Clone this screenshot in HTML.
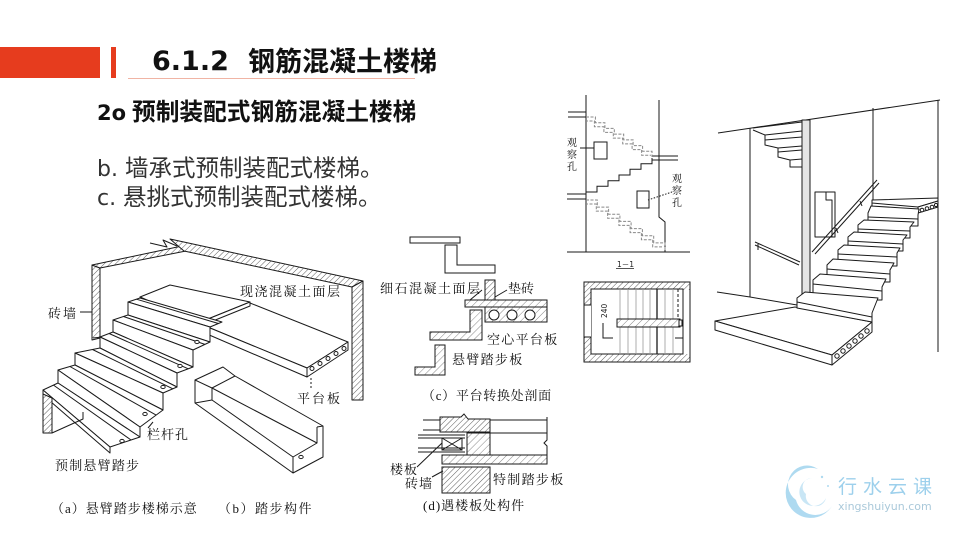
<!DOCTYPE html>
<html><head><meta charset="utf-8">
<style>
html,body{margin:0;padding:0;background:#fff;}
svg{display:block;}
.cn{font-family:"Liberation Serif","Noto Serif CJK SC","Noto Sans CJK SC",serif;font-size:13px;fill:#111;}
</style></head>
<body>
<svg width="960" height="540" viewBox="0 0 960 540" xmlns="http://www.w3.org/2000/svg">
<defs>
<pattern id="h" patternUnits="userSpaceOnUse" width="4" height="4" patternTransform="rotate(45)">
<rect width="4" height="4" fill="#fff"/>
<line x1="0" y1="0" x2="0" y2="4" stroke="#333" stroke-width="0.8"/>
</pattern>
<pattern id="hg" patternUnits="userSpaceOnUse" width="5" height="5" patternTransform="rotate(45)">
<rect width="5" height="5" fill="#fff"/>
<line x1="0" y1="0" x2="0" y2="5" stroke="#555" stroke-width="0.7"/>
</pattern>
</defs>
<rect width="960" height="540" fill="#fff"/>

<!-- Header -->
<rect x="0" y="47" width="100" height="31" fill="#e63c1e"/>
<rect x="111" y="47" width="5" height="31" fill="#e63c1e"/>
<line x1="128" y1="78.5" x2="415" y2="78.5" stroke="#f0b4a4" stroke-width="1"/>
<text x="152" y="70" font-family="DejaVu Sans, sans-serif" font-weight="bold" font-size="27" fill="#111">6.1.2</text>
<text x="248" y="71" font-family="'Liberation Sans','Noto Sans CJK SC',sans-serif" font-weight="bold" font-size="27" fill="#111">钢筋混凝土楼梯</text>

<text x="97" y="120" font-family="DejaVu Sans, sans-serif" font-weight="bold" font-size="21" fill="#111">2o</text>
<text x="132" y="120" font-family="'Liberation Sans','Noto Sans CJK SC',sans-serif" font-weight="bold" font-size="23.7" fill="#111">预制装配式钢筋混凝土楼梯</text>

<text x="97" y="176" font-family="DejaVu Sans, sans-serif" font-size="22" fill="#333">b.</text>
<text x="125" y="176" font-family="'Liberation Sans','Noto Sans CJK SC',sans-serif" font-size="23.5" fill="#333">墙承式预制装配式楼梯。</text>
<text x="97" y="205" font-family="DejaVu Sans, sans-serif" font-size="22" fill="#333">c.</text>
<text x="123" y="205" font-family="'Liberation Sans','Noto Sans CJK SC',sans-serif" font-size="23.5" fill="#333">悬挑式预制装配式楼梯。</text>

<!-- ============ Drawing (a)(b) ============ -->
<g stroke="#1a1a1a" stroke-width="1" fill="#fff" stroke-linejoin="round">
  <!-- walls -->
  <polygon points="92,265 100,268 100,338 92,340" fill="url(#h)"/>
  <polygon points="92,265 182,246 186,251 100,268" fill="url(#h)"/>
  <polygon points="170,239 363,281 352,287 184,251" fill="url(#h)"/>
  <polyline points="150,243 167,247 163,240 177,246" fill="none"/>
  <polygon points="352,287 363,281 363,400 352,400" fill="url(#h)"/>
  <line x1="93" y1="338" x2="112" y2="336"/>

  <!-- platform slab -->
  <polygon points="198,323 250,303 348,342 307,368"/>
  <polygon points="307,368 348,342 348,350 307,377"/>
  <polygon points="198,323 307,368 307,377 200,331"/>
  <g fill="#fff">
    <circle cx="312" cy="368.5" r="2"/><circle cx="320" cy="363.5" r="2"/>
    <circle cx="328" cy="358.5" r="2"/><circle cx="336" cy="353.5" r="2"/>
    <circle cx="344" cy="348.5" r="2"/>
  </g>
  <line x1="311" y1="378" x2="311" y2="388" stroke-dasharray="2,2"/>

  <!-- surface layer -->
  <polygon points="140,297 170,285 250,302 198,323"/>
  <polygon points="140,297 198,323 198,327 140,301"/>
  <polygon points="198,323 250,302 250,306 198,327"/>

  <!-- steps -->
  <polygon points="140,298 222,322 210,327 128,302"/>
  <line x1="136.4" y1="299.2" x2="218.4" y2="323.5"/>
  <polygon points="128,302 210,327 210,342 128,315"/>
  <polygon points="128,315 210,342 193,350 113,320"/>
  <line x1="123.5" y1="316.5" x2="204.9" y2="344.4"/>
  <polygon points="113,320 193,350 193,367 113,332"/>
  <polygon points="113,332 193,367 177,373 100,337"/>
  <line x1="109.1" y1="333.5" x2="188.2" y2="368.8"/>
  <polygon points="100,337 177,373 177,387 100,348"/>
  <polygon points="100,348 177,387 163,393 75,353"/>
  <line x1="92.5" y1="349.5" x2="172.8" y2="388.8"/>
  <polygon points="75,353 163,393 163,410 75,365"/>
  <polygon points="75,365 163,410 140,427 58,370"/>
  <line x1="69.9" y1="366.5" x2="156.1" y2="415.1"/>
  <polygon points="58,370 140,427 140,437 58,383"/>
  <polygon points="58,383 140,437 110,447 43,390"/>
  <line x1="53.5" y1="385.1" x2="131" y2="440"/>
  <polygon points="43,390 110,447 110,453 43,395"/>
  <!-- stub block -->
  <polygon points="43,394 52,398 52,433 43,433" fill="url(#h)"/>
  <polyline points="52,433 83,419 83,412" fill="none"/>
  <!-- holes -->
  <g fill="#fff">
    <ellipse cx="197" cy="342" rx="2.2" ry="1.6"/>
    <ellipse cx="180" cy="366" rx="2.2" ry="1.6"/>
    <ellipse cx="163" cy="387" rx="2.2" ry="1.6"/>
    <ellipse cx="145" cy="414" rx="2.2" ry="1.6"/>
    <ellipse cx="122" cy="441" rx="2.2" ry="1.6"/>
  </g>
  <line x1="148" y1="428" x2="153" y2="422"/>
  <line x1="80" y1="312" x2="92" y2="312"/>

  <!-- (b) tread component -->
  <polygon points="195,380 223,367 235,376 323,426 323,457 293,473 195,403"/>
  <polyline points="195,380 212,388 235,376" fill="none"/>
  <line x1="212" y1="388" x2="212" y2="400"/>
  <line x1="212" y1="388" x2="317" y2="443"/>
  <line x1="212" y1="400" x2="293" y2="457"/>
  <line x1="195" y1="403" x2="212" y2="400"/>
  <polyline points="317,427 317,443 293,457 293,473" fill="none"/>
  <line x1="317" y1="427" x2="323" y2="426"/>
  <ellipse cx="301" cy="457" rx="2.2" ry="1.6"/>
</g>
<g class="cn">
  <text x="240" y="296" letter-spacing="1.5">现浇混凝土面层</text>
  <text x="48" y="318" letter-spacing="2">砖墙</text>
  <text x="147" y="439" letter-spacing="1">栏杆孔</text>
  <text x="297" y="403" letter-spacing="2">平台板</text>
  <text x="55" y="470" letter-spacing="1.2">预制悬臂踏步</text>
  <text x="51" y="513" letter-spacing="1">（a）悬臂踏步楼梯示意</text>
  <text x="218" y="513" letter-spacing="1.5">（b）踏步构件</text>
</g>

<!-- ============ Drawing (c) ============ -->
<g stroke="#1a1a1a" stroke-width="1" fill="#fff">
  <rect x="410" y="237" width="50" height="6"/>
  <polygon points="445,245 457,245 457,265 495,265 495,273 445,273"/>
  <rect x="485" y="280" width="10" height="20" fill="url(#h)"/>
  <rect x="465" y="300" width="82" height="7" fill="url(#hg)"/>
  <rect x="485" y="307" width="62" height="15" fill="url(#hg)"/>
  <circle cx="494" cy="315" r="5"/><circle cx="512" cy="315" r="5"/><circle cx="530" cy="315" r="5"/>
  <polygon points="470,310 482,310 482,340 430,340 430,332 470,332" fill="url(#hg)"/>
  <polygon points="435,345 445,345 445,375 415,375 415,367 435,367" fill="url(#hg)"/>
  <line x1="482" y1="290" x2="470" y2="300"/>
  <line x1="507" y1="290" x2="495" y2="297"/>
</g>
<g class="cn">
  <text x="380" y="293" letter-spacing="1.5">细石混凝土面层</text>
  <text x="508" y="293" letter-spacing="0">垫砖</text>
  <text x="487" y="344" letter-spacing="1.3">空心平台板</text>
  <text x="452" y="364" letter-spacing="1.3">悬臂踏步板</text>
  <text x="422" y="400" letter-spacing="0.7">（c）平台转换处剖面</text>
</g>

<!-- ============ Drawing (d) ============ -->
<g stroke="#1a1a1a" stroke-width="1" fill="#fff">
  <polygon points="440,417 461,417 464,414 468,419 490,419 490,432 440,432" fill="url(#h)"/>
  <line x1="423" y1="420" x2="440" y2="420"/>
  <line x1="423" y1="430" x2="440" y2="430"/>
  <line x1="490" y1="420" x2="547" y2="420"/>
  <polyline points="547,417 547,440 544,443 547,446 547,455" fill="none"/>
  <line x1="490" y1="433" x2="547" y2="433"/>
  <line x1="418" y1="435" x2="465" y2="435"/>
  <line x1="418" y1="438" x2="465" y2="438"/>
  <line x1="418" y1="448" x2="465" y2="448"/>
  <line x1="418" y1="452" x2="465" y2="452"/>
  <rect x="442" y="438" width="20" height="12" fill="none"/>
  <line x1="442" y1="438" x2="462" y2="450"/><line x1="462" y1="438" x2="442" y2="450"/>
  <rect x="467" y="433" width="23" height="22" fill="url(#hg)"/>
  <rect x="442" y="455" width="105" height="9" fill="url(#hg)"/>
  <rect x="442" y="467" width="48" height="26" fill="url(#h)"/>
  <line x1="417" y1="467" x2="442" y2="443"/>
  <line x1="432" y1="477" x2="443" y2="471"/>
</g>
<g class="cn">
  <text x="390" y="474" letter-spacing="1">楼板</text>
  <text x="405" y="488" letter-spacing="1">砖墙</text>
  <text x="493" y="484" letter-spacing="1.3">特制踏步板</text>
  <text x="423" y="510" letter-spacing="1">(d)遇楼板处构件</text>
</g>

<!-- ============ Section 1-1 ============ -->
<g stroke="#1a1a1a" stroke-width="1" fill="none">
  <line x1="586" y1="95" x2="586" y2="252"/>
  <polyline points="659,100 659,217 665,222 665,252"/>
  <line x1="567" y1="252" x2="690" y2="252"/>
  <line x1="568" y1="112" x2="586" y2="112"/><line x1="568" y1="117" x2="586" y2="117"/>
  <line x1="567" y1="194" x2="586" y2="194"/><line x1="567" y1="199" x2="586" y2="199"/>
  <line x1="652" y1="156" x2="678" y2="156"/><line x1="652" y1="160" x2="678" y2="160"/>
  <g stroke="#888" stroke-dasharray="3,1.5">
    <polyline points="586,117 595.4,117 595.4,122.7 604.9,122.7 604.9,128.4 614.3,128.4 614.3,134.1 623.7,134.1 623.7,139.9 633.1,139.9 633.1,145.6 642.6,145.6 642.6,151.3 652,151.3 652,157"/>
    <polyline transform="translate(-1,4)" points="586,117 595.4,117 595.4,122.7 604.9,122.7 604.9,128.4 614.3,128.4 614.3,134.1 623.7,134.1 623.7,139.9 633.1,139.9 633.1,145.6 642.6,145.6 642.6,151.3 652,151.3"/>
    <polyline points="586,200 597.3,200 597.3,207.1 608.6,207.1 608.6,214.3 619.9,214.3 619.9,221.4 631.1,221.4 631.1,228.6 642.4,228.6 642.4,235.7 653.7,235.7 653.7,242.9 665,242.9 665,250"/>
    <polyline transform="translate(-1,4)" points="586,200 597.3,200 597.3,207.1 608.6,207.1 608.6,214.3 619.9,214.3 619.9,221.4 631.1,221.4 631.1,228.6 642.4,228.6 642.4,235.7 653.7,235.7 653.7,242.9 663,242.9"/>
  </g>
  <polyline points="586,192 597,192 597,186.3 608,186.3 608,180.7 619,180.7 619,175 630,175 630,169.3 641,169.3 641,163.7 652,163.7 652,158"/>
  <rect x="594" y="142" width="13" height="17"/>
  <rect x="637" y="191" width="12" height="17"/>
  <line x1="580" y1="148" x2="594" y2="148"/>
  <line x1="648" y1="200" x2="672" y2="192" stroke-dasharray="1.5,1.5"/>
  <line x1="616" y1="268.5" x2="634" y2="268.5" stroke-width="0.8"/>
</g>
<g class="cn" style="font-size:10px">
  <text x="567" y="146">观</text><text x="567" y="158">察</text><text x="567" y="170">孔</text>
  <text x="672" y="182">观</text><text x="672" y="194">察</text><text x="672" y="206">孔</text>
</g>
<text x="617" y="267" font-family="DejaVu Sans, sans-serif" font-size="7.5" fill="#222">1－1</text>

<!-- ============ Plan ============ -->
<g stroke="#1a1a1a" stroke-width="1">
  <rect x="584" y="282" width="106" height="80" fill="url(#h)"/>
  <rect x="591" y="289" width="92" height="65" fill="#fff"/>
  <rect x="584.5" y="305" width="6.5" height="32" fill="#fff" stroke="none"/>
  <rect x="683" y="290" width="7" height="64" fill="#fff" stroke="none"/>
  <line x1="690" y1="289" x2="690" y2="354"/>
  <line x1="683" y1="289" x2="683" y2="354"/>
  <line x1="584" y1="305" x2="591" y2="305"/><line x1="584" y1="337" x2="591" y2="337"/>
  <g stroke="#999" stroke-width="0.8">
    <line x1="620" y1="289" x2="620" y2="354"/><line x1="628" y1="289" x2="628" y2="354"/>
    <line x1="636" y1="289" x2="636" y2="354"/><line x1="643" y1="289" x2="643" y2="354"/>
    <line x1="650" y1="289" x2="650" y2="354"/><line x1="665" y1="289" x2="665" y2="354"/>
    <line x1="673" y1="289" x2="673" y2="354"/>
  </g>
  <line x1="657" y1="289" x2="657" y2="354" stroke-width="1.3"/>
  <line x1="678" y1="289" x2="678" y2="321" stroke-dasharray="3,2"/>
  <rect x="617" y="319" width="63" height="8" fill="url(#hg)"/>
  <rect x="679" y="320" width="3" height="6" fill="#fff"/>
  <polyline points="603,323 603,338 613,338" fill="none"/>
  <polyline points="675,338 683,338 683,325" fill="none"/>
</g>
<text transform="translate(607,318) rotate(-90)" font-family="DejaVu Sans, sans-serif" font-size="7.5" fill="#222">240</text>

<!-- ============ Perspective ============ -->
<g stroke="#1a1a1a" stroke-width="1" fill="#fff" stroke-linejoin="round">
  <line x1="718" y1="133" x2="940" y2="100"/>
  <line x1="938" y1="100" x2="938" y2="352"/>
  <line x1="750" y1="128" x2="750" y2="297"/>
  <line x1="873" y1="108" x2="873" y2="202"/>
  <!-- upper flight -->
  <polyline fill="none" points="753,130 765,135 765,145 778,148 778,157 790,160 790,167 802,167"/>
  <line x1="753" y1="128" x2="802" y2="122"/>
  <line x1="765" y1="135" x2="802" y2="131"/>
  <line x1="765" y1="140" x2="802" y2="137"/>
  <line x1="778" y1="148" x2="802" y2="146"/>
  <line x1="778" y1="152" x2="802" y2="150"/>
  <line x1="790" y1="160" x2="802" y2="159"/>
  <!-- column -->
  <rect x="802" y="120" width="8" height="177" fill="#e4e4e4"/>
  <!-- window -->
  <rect x="815" y="192" width="20" height="45"/>
  <polyline fill="none" points="826,192 826,200 832,200 832,237"/>
  <!-- handrails -->
  <line x1="812" y1="252" x2="877" y2="180"/>
  <line x1="815" y1="254" x2="879" y2="183"/>
  <line x1="836" y1="228" x2="838" y2="233"/>
  <line x1="860" y1="201" x2="862" y2="206"/>
  <line x1="755" y1="242" x2="800" y2="262"/>
  <line x1="755" y1="245" x2="799" y2="265"/>
  <line x1="758" y1="244" x2="758" y2="250"/>
  <!-- floor -->
  <line x1="717" y1="292" x2="750" y2="297"/>
  <line x1="750" y1="297" x2="797" y2="305"/>
  <!-- upper landing -->
  <polygon points="872,200 938,198 938,201 918,207 872,203"/>
  <polygon points="918,207 938,201 938,207 918,213"/>
  <line x1="872" y1="203" x2="872" y2="207"/>
  <g fill="#fff"><circle cx="922" cy="210" r="1.8"/><circle cx="927" cy="208.5" r="1.8"/><circle cx="932" cy="207" r="1.8"/><circle cx="936" cy="205" r="1.6"/></g>
  <!-- lower landing -->
  <polygon points="715,321 795,307 872,322 832,355"/>
  <polygon points="715,321 832,355 832,365 715,330"/>
  <polygon points="832,355 872,322 872,332 832,365"/>
  <g fill="#fff"><circle cx="837" cy="356" r="2.2"/><circle cx="843" cy="351" r="2.2"/><circle cx="849" cy="346" r="2.2"/><circle cx="855" cy="341" r="2.2"/><circle cx="861" cy="336" r="2.2"/><circle cx="867" cy="331" r="2.2"/></g>
  <!-- main flight steps (top to bottom) -->
  <polygon points="871,206 919,209 918,215 918,226 868,226 868,213"/>
  <line x1="868" y1="217" x2="918" y2="219"/>
  <polygon points="864,220 914,222 910,227 910,238 858,238 858,225"/>
  <line x1="858" y1="229" x2="910" y2="231"/>
  <polygon points="854,232 907,235 903,240 903,251 848,251 848,237"/>
  <line x1="848" y1="241" x2="903" y2="244"/>
  <polygon points="844,245 900,248 897,253 897,266 838,266 838,250"/>
  <line x1="838" y1="254" x2="897" y2="257"/>
  <polygon points="833,259 894,263 890,270 890,282 827,282 827,265"/>
  <line x1="827" y1="269" x2="890" y2="274"/>
  <polygon points="820,274 886,279 882,287 882,300 813,300 813,280"/>
  <line x1="813" y1="284" x2="882" y2="291"/>
  <polygon points="805,292 878,298 872,313 872,322 797,308 797,298"/>
  <line x1="797" y1="302" x2="872" y2="317"/>
</g>

<!-- ============ Logo watermark ============ -->
<g opacity="0.9">
  <path d="M818,469 A25,25 0 1 0 832,506 A20,20 0 0 1 796,500 A17,17 0 0 1 818,469 Z" fill="#a6d6ef"/>
  <path d="M812,478 A14,14 0 1 0 826,498 A10,10 0 0 1 806,494 A9,9 0 0 1 812,478 Z" fill="#c4e4f5"/>
  <circle cx="822" cy="477" r="1.2" fill="#a6d6ef"/>
  <circle cx="828" cy="486" r="1" fill="#a6d6ef"/>
</g>
<text x="838" y="493" font-family="'Liberation Sans','Noto Sans CJK SC',sans-serif" font-size="19" letter-spacing="6" fill="#9dd0ec">行水云课</text>
<text x="838" y="510" font-family="DejaVu Sans, sans-serif" font-size="11" fill="#aac9da">xingshuiyun.com</text>
</svg>
</body></html>
